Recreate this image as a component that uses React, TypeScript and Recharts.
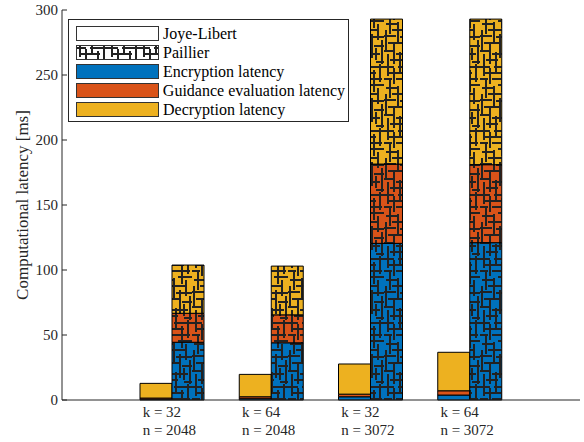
import React from 'react';
import { ComposedChart, Bar, XAxis, YAxis, Legend } from 'recharts';

// tick labels (two lines per category)
const kLabels = ['k = 32', 'k = 64', 'k = 32', 'k = 64'];
const nLabels = ['n = 2048', 'n = 2048', 'n = 3072', 'n = 3072'];

// Joye-Libert stacks [ms]
const jlEnc = [0.5, 1, 2.5, 3.8];
const jlGuid = [1, 1.5, 2, 3.3];
const jlDec = [11.3, 17.2, 23.2, 29.6];

// Paillier stacks [ms]
const paEnc = [44.4, 44, 120.5, 121];
const paGuid = [22.3, 21.5, 61, 60];
const paDec = [37.1, 37.5, 111.5, 112];

const yTicks = [0, 50, 100, 150, 200, 250, 300];

const blue = '#0072BD';
const orange = '#D95319';
const yellow = '#EDB120';
const axisColor = '#262626';
const font = '"Liberation Serif", "Times New Roman", serif';

const data = kLabels.map((k, i) => ({
  name: k + ' ' + nLabels[i],
  jlEnc: jlEnc[i],
  jlGuid: jlGuid[i],
  jlDec: jlDec[i],
  paEnc: paEnc[i],
  paGuid: paGuid[i],
  paDec: paDec[i],
}));

const legendItems = [
  { name: 'Joye-Libert', fill: '#ffffff' },
  { name: 'Paillier', fill: 'url(#hatch-white)' },
  { name: 'Encryption latency', fill: blue },
  { name: 'Guidance evaluation latency', fill: orange },
  { name: 'Decryption latency', fill: yellow },
];

// maze-like segments for the hatch tile (32 x 64)
const hSegs = [
  [0, 3, 10], [14, 3, 32], [4, 9, 24], [0, 15, 8], [12, 15, 30], [18, 21, 32], [2, 24, 14], [8, 30, 26],
  [0, 36, 12], [16, 37, 32], [4, 43, 20], [22, 46, 32], [0, 51, 10], [12, 54, 28], [6, 60, 18], [24, 62, 32],
];
const vSegs = [
  [4, 0, 12], [10, 4, 20], [16, 0, 8], [22, 6, 28], [28, 0, 18], [6, 16, 34], [14, 22, 44], [26, 24, 40],
  [2, 30, 50], [20, 34, 58], [30, 40, 64], [10, 44, 64], [16, 52, 64], [24, 48, 60], [4, 54, 64],
];

const HatchPattern = ({ id, bg }: { id: string; bg: string }) => (
  <pattern id={id} patternUnits="userSpaceOnUse" width={32} height={64}>
    <rect x={0} y={0} width={32} height={64} fill={bg} />
    {hSegs.map(([x1, y, x2], i) => (
      <line key={'h' + i} x1={x1} y1={y} x2={x2} y2={y} stroke="#222" strokeWidth={2} />
    ))}
    {vSegs.map(([x, y1, y2], i) => (
      <line key={'v' + i} x1={x} y1={y1} x2={x} y2={y2} stroke="#222" strokeWidth={2} />
    ))}
  </pattern>
);

const XTick = (props: any) => {
  const { x, y, index } = props;
  return (
    <text x={x - 29} y={y} fill={axisColor} fontSize={15} fontFamily={font} textAnchor="start">
      <tspan x={x - 29} dy={17}>{kLabels[index]}</tspan>
      <tspan x={x - 29} dy={18}>{nLabels[index]}</tspan>
    </text>
  );
};

const YTick = (props: any) => {
  const { x, y, payload } = props;
  return (
    <g>
      <line x1={x} y1={y} x2={x + 5} y2={y} stroke={axisColor} />
      <text x={x - 4} y={y} dy="0.35em" fill={axisColor} fontSize={15} fontFamily={font} textAnchor="end">
        {payload.value}
      </text>
    </g>
  );
};

const renderLegend = () => (
  <div
    style={{
      border: '1px solid #262626',
      background: '#fff',
      padding: '4px 3px 2px 7px',
      fontFamily: font,
      fontSize: 16,
      color: '#000',
      lineHeight: '19px',
    }}
  >
    {legendItems.map((it) => (
      <div key={it.name} style={{ display: 'flex', alignItems: 'center', height: 19 }}>
        <svg width={83} height={15} style={{ marginRight: 4 }}>
          <rect x={0.5} y={0.5} width={82} height={14} fill={it.fill} stroke="#333" />
        </svg>
        <span style={{ whiteSpace: 'nowrap' }}>{it.name}</span>
      </div>
    ))}
  </div>
);

const App = () => {
  return (
    <div style={{ position: 'absolute', left: 0, top: 0, background: '#fff' }}>
      <ComposedChart
        width={584}
        height={442}
        data={data}
        margin={{ top: 10, right: 4, bottom: 2, left: 12 }}
        barGap={0}
        barSize={32}
      >
        <defs>
          <HatchPattern id="hatch-white" bg="#ffffff" />
          <HatchPattern id="hatch-blue" bg={blue} />
          <HatchPattern id="hatch-orange" bg={orange} />
          <HatchPattern id="hatch-yellow" bg={yellow} />
        </defs>
        <XAxis
          dataKey="name"
          padding={{ left: 60, right: 61 }}
          tickLine={false}
          tickSize={0}
          tickMargin={0}
          height={40}
          interval={0}
          stroke={axisColor}
          tick={<XTick />}
        />
        <YAxis
          domain={[0, 300]}
          ticks={yTicks}
          width={50}
          tickLine={false}
          tickSize={0}
          tickMargin={0}
          stroke={axisColor}
          tick={<YTick />}
          label={{
            content: (p: any) => {
              const vb = p.viewBox;
              const cx = vb.x + 10;
              const cy = vb.y + vb.height / 2;
              return (
                <text
                  x={cx}
                  y={cy}
                  transform={`rotate(-90 ${cx} ${cy})`}
                  textAnchor="middle"
                  dy="0.35em"
                  fill={axisColor}
                  fontSize={17}
                  fontFamily={font}
                >
                  Computational latency [ms]
                </text>
              );
            },
          }}
        />
        <Legend
          layout="horizontal"
          align="center"
          verticalAlign="middle"
          content={renderLegend}
          wrapperStyle={{ left: 68, top: 19, width: 281 }}
        />
        <Bar dataKey="jlEnc" stackId="jl" fill={blue} stroke="#000" strokeWidth={1} isAnimationActive={false} />
        <Bar dataKey="jlGuid" stackId="jl" fill={orange} stroke="#000" strokeWidth={1} isAnimationActive={false} />
        <Bar dataKey="jlDec" stackId="jl" fill={yellow} stroke="#000" strokeWidth={1} isAnimationActive={false} />
        <Bar dataKey="paEnc" stackId="pa" fill="url(#hatch-blue)" stroke="#000" strokeWidth={1} isAnimationActive={false} />
        <Bar dataKey="paGuid" stackId="pa" fill="url(#hatch-orange)" stroke="#000" strokeWidth={1} isAnimationActive={false} />
        <Bar dataKey="paDec" stackId="pa" fill="url(#hatch-yellow)" stroke="#000" strokeWidth={1} isAnimationActive={false} />
      </ComposedChart>
    </div>
  );
};

export default App;
